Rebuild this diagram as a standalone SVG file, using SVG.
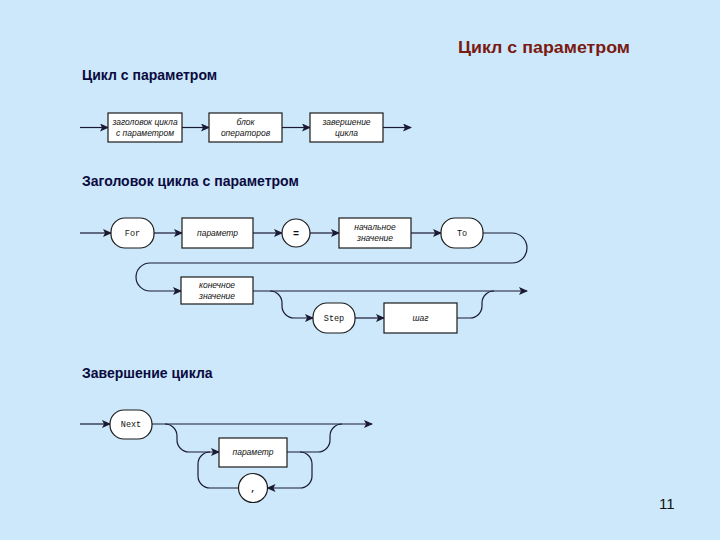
<svg xmlns="http://www.w3.org/2000/svg" width="720" height="540" viewBox="0 0 720 540">
<defs>
<marker id="ah" markerWidth="9" markerHeight="8" refX="8" refY="4" orient="auto" markerUnits="userSpaceOnUse">
<path d="M0,0 L9,4 L0,8 L2,4 z" fill="#1a1a33"/>
</marker>
<style>
.bg{fill:#cce8fa}
.n{fill:#ffffff;stroke:#1a1a1a;stroke-width:1.2}
.c{fill:none;stroke:#1a1a33;stroke-width:1.2}
.ca{fill:none;stroke:#1a1a33;stroke-width:1.2;marker-end:url(#ah)}
.l{font-family:"Liberation Sans",Arial,sans-serif;font-style:italic;font-size:8.5px;fill:#111;text-anchor:middle}
.k{font-family:"Liberation Mono","Courier New",monospace;font-size:8.5px;fill:#111;text-anchor:middle}
.h{font-family:"Liberation Sans",Arial,sans-serif;font-weight:bold;font-size:14px;fill:#0a0a40}
.t{font-family:"Liberation Sans",Arial,sans-serif;font-weight:bold;font-size:17px;fill:#7a1a12}
.p{font-family:"Liberation Sans",Arial,sans-serif;font-size:15px;fill:#111}
</style>
</defs>
<rect class="bg" x="0" y="0" width="720" height="540"/>

<text class="t" x="458" y="53" textLength="172" lengthAdjust="spacingAndGlyphs">Цикл с параметром</text>
<text class="h" x="82" y="80">Цикл с параметром</text>
<text class="h" x="82" y="186">Заголовок цикла с параметром</text>
<text class="h" x="82" y="378">Завершение цикла</text>
<text class="p" x="659" y="509">11</text>

<g id="connectors">
<path class="ca" d="M80,127.5 H108"/>
<path class="ca" d="M182,127.5 H209"/>
<path class="ca" d="M282,127.5 H310"/>
<path class="ca" d="M383,127.5 H411"/>

<path class="ca" d="M80,233 H111"/>
<path class="ca" d="M154,233 H182"/>
<path class="ca" d="M253,233 H282"/>
<path class="ca" d="M310,233 H339"/>
<path class="ca" d="M411,233 H441"/>
<path class="ca" d="M483,233 H512 A15,15 0 0 1 512,263 H150 A14,14 0 0 0 150,291 H181"/>
<path class="ca" d="M253,291 H527"/>
<path class="ca" d="M270,291 A12,12 0 0 1 282,303 V306 A12,12 0 0 0 294,318 H313"/>
<path class="ca" d="M355,318 H384"/>
<path class="c" d="M457,318 H470 A12,12 0 0 0 482,306 V303 A12,12 0 0 1 494,291"/>

<path class="ca" d="M80,424 H110"/>
<path class="ca" d="M152,424 H372"/>
<path class="ca" d="M165,424 A12,12 0 0 1 177,436 V440 A12,12 0 0 0 189,452 H219"/>
<path class="c" d="M238.5,488 H210 A12,12 0 0 1 198,476 V464 A12,12 0 0 1 210,452"/>
<path class="ca" d="M287,452 H300 A12,12 0 0 1 312,464 V476 A12,12 0 0 1 300,488 H267.5"/>
<path class="c" d="M300,452 H318 A12,12 0 0 0 330,440 V436 A12,12 0 0 1 342,424"/>
</g>

<g id="n-zag">
<rect class="n" x="108" y="113" width="74" height="29"/>
<text class="l" x="145" y="125">заголовок цикла</text>
<text class="l" x="145" y="136">с параметром</text>
</g>
<g id="n-blok">
<rect class="n" x="209" y="113" width="73" height="29"/>
<text class="l" x="245.5" y="125">блок</text>
<text class="l" x="245.5" y="136">операторов</text>
</g>
<g id="n-zav">
<rect class="n" x="310" y="113" width="73" height="29"/>
<text class="l" x="346.5" y="125">завершение</text>
<text class="l" x="346.5" y="136">цикла</text>
</g>

<g id="n-for">
<rect class="n" x="111" y="218" width="43" height="30" rx="14"/>
<text class="k" x="132.5" y="236">For</text>
</g>
<g id="n-param1">
<rect class="n" x="182" y="218" width="71" height="30"/>
<text class="l" x="217.5" y="236">параметр</text>
</g>
<g id="n-eq">
<circle class="n" cx="296" cy="233" r="14"/>
<text class="k" x="296" y="236.5" style="font-weight:bold;font-size:10px">=</text>
</g>
<g id="n-nach">
<rect class="n" x="339" y="218" width="72" height="30"/>
<text class="l" x="375" y="230">начальное</text>
<text class="l" x="375" y="241">значение</text>
</g>
<g id="n-to">
<rect class="n" x="441" y="218" width="42" height="30" rx="14"/>
<text class="k" x="462" y="236">To</text>
</g>
<g id="n-kon">
<rect class="n" x="181" y="277" width="72" height="27"/>
<text class="l" x="217" y="288">конечное</text>
<text class="l" x="217" y="299">значение</text>
</g>
<g id="n-step">
<rect class="n" x="313" y="303" width="42" height="30" rx="14"/>
<text class="k" x="334" y="321">Step</text>
</g>
<g id="n-shag">
<rect class="n" x="384" y="303" width="73" height="30"/>
<text class="l" x="420.5" y="321">шаг</text>
</g>

<g id="n-next">
<rect class="n" x="110" y="410" width="42" height="29" rx="14"/>
<text class="k" x="131" y="427">Next</text>
</g>
<g id="n-param2">
<rect class="n" x="219" y="438" width="68" height="29"/>
<text class="l" x="253" y="455">параметр</text>
</g>
<g id="n-comma">
<circle class="n" cx="253" cy="488" r="14.5"/>
<text class="k" x="253" y="491" style="font-weight:bold">,</text>
</g>
</svg>
